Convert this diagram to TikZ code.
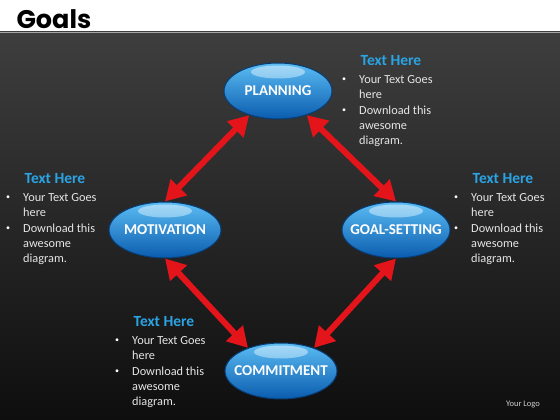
\documentclass[tikz,border=0pt]{standalone}
\usepackage{fontspec}
\setmainfont{Carlito}
\newfontfamily\titlefont{Poppins}
\usetikzlibrary{shapes.geometric,arrows.meta}

\definecolor{bgtop}{HTML}{3E3E3E}
\definecolor{bgbot}{HTML}{0E0E0E}
\definecolor{headblue}{HTML}{2AA4E4}
\definecolor{ovaltop}{HTML}{5CBDF4}
\definecolor{ovalmid}{HTML}{1C90E6}
\definecolor{ovalbot}{HTML}{0A5CAE}
\definecolor{ovaledge}{HTML}{083C74}
\definecolor{arrowred}{HTML}{E3141A}

\tikzset{
  goal/.style={ellipse, draw=ovaledge, line width=1pt,
    minimum width=108pt, minimum height=56pt, inner xsep=-14pt, inner ysep=0pt,
    top color=ovaltop, middle color=ovalmid, bottom color=ovalbot,
    text=white, font=\bfseries\fontsize{15}{18}\selectfont,
    path picture={\shade[top color=white!80!ovaltop, bottom color=ovaltop, fill opacity=0.6]
      ([yshift=-9pt]path picture bounding box.north) ellipse (27pt and 6.5pt);}},
  link/.style={draw=arrowred, line width=6pt,
    {Triangle[length=20pt,width=22pt]}-{Triangle[length=20pt,width=22pt]}},
  head/.style={text=headblue, font=\bfseries\fontsize{15.5}{18}\selectfont},
  dot/.style={text=white, font=\fontsize{8}{10}\selectfont, inner sep=0pt},
  item/.style={anchor=north west, align=left, text=white!90!black, inner sep=0pt,
    font=\fontsize{12.3}{15.2}\selectfont}
}

% one text block: name, bullet x, first line y
\newcommand\infoblock[3]{%
  \node[head] (#1-head) at (#2+47,#3-19) {Text Here};
  \node[dot] (#1-b1) at (#2,#3) {\textbullet};
  \node[item] (#1-t1) at (#2+15,#3-7.8) {\strut Your Text Goes\\here};
  \node[dot] (#1-b2) at (#2,#3+31) {\textbullet};
  \node[item] (#1-t2) at (#2+15,#3+31-7.8) {\strut Download this\\awesome\\diagram.};
}

\begin{document}
\begin{tikzpicture}[x=1pt,y=-1pt]
  \useasboundingbox (0,0) rectangle (560,420);
  % background
  \fill[white] (0,0) rectangle (560,32);
  \shade[top color=bgtop, bottom color=bgbot] (0,32) rectangle (560,420);
  \draw[white!65!black, line width=1.5pt] (0,32.5) -- (560,32.5);
  \node[anchor=west, font=\titlefont\bfseries\fontsize{25.5}{30}\selectfont] (title) at (13,19) {Goals};

  % ovals
  \node[goal] (plan) at (278,91) {PLANNING};
  \node[goal, minimum width=112pt] (mot) at (165,230) {MOTIVATION};
  \node[goal] (set) at (396,230) {GOAL-SETTING};
  \node[goal, minimum width=112pt] (comm) at (281,371) {COMMITMENT};

  % arrows
  \draw[link] (plan.220) -- (mot.north);
  \draw[link] (plan.320) -- (set.north);
  \draw[link] (mot.south) -- (comm.145);
  \draw[link] (set.south) -- (comm.35);

  % text blocks
  \infoblock{tr}{344}{80}
  \infoblock{lf}{8}{198}
  \infoblock{rt}{456}{198}
  \infoblock{bt}{117}{341}

  \node[text=white!80!black, font=\fontsize{8.5}{10}\selectfont] (logo) at (523,405) {Your Logo};
\end{tikzpicture}
\end{document}
